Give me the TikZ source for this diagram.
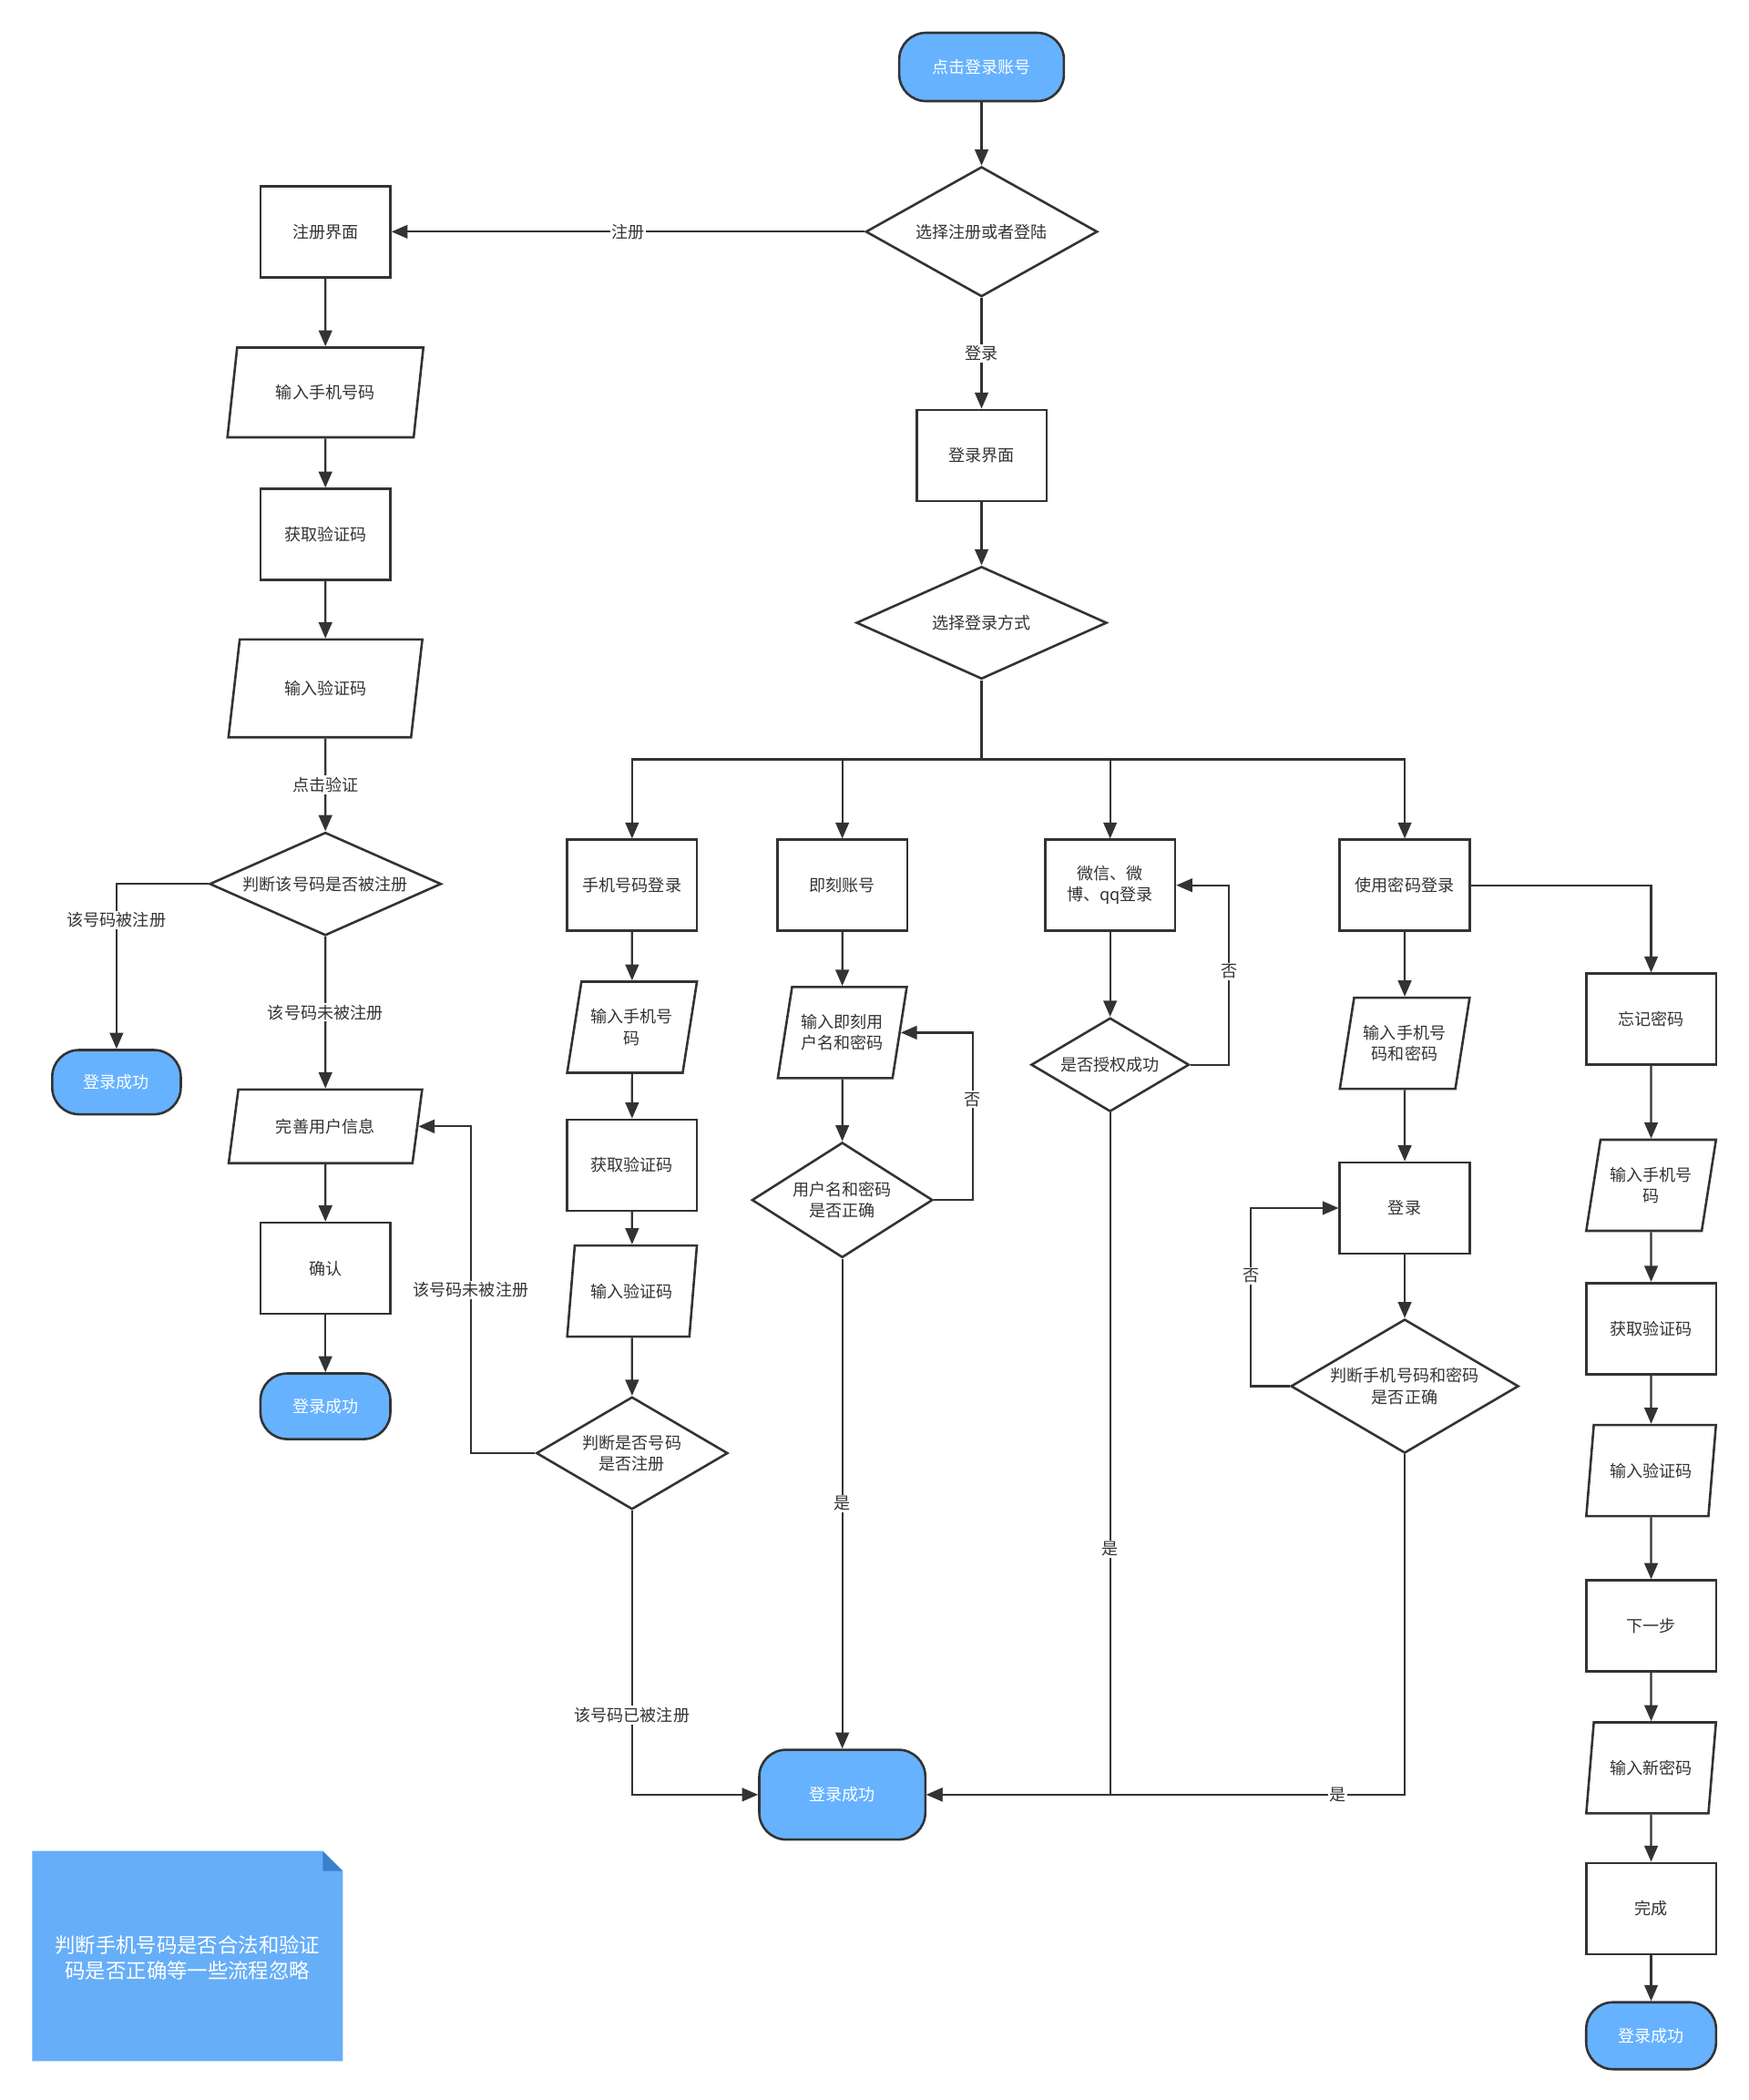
\documentclass[tikz,border=0pt]{standalone}
\usepackage{fontspec}
\setmainfont{Noto Sans CJK SC}
\usepackage{tikz}
\usetikzlibrary{shapes.geometric,arrows.meta}
\definecolor{lineC}{HTML}{333333}
\definecolor{termC}{HTML}{66B2FF}
\definecolor{noteC}{HTML}{66AEF8}
\definecolor{foldC}{HTML}{3A80CC}

\begin{document}
\begin{tikzpicture}[x=0.03cm, y=-0.03cm,
  base/.style={draw=lineC, line width=1.5pt, text=lineC, align=center, inner sep=1pt,
    font=\fontsize{10.5}{13.5}\selectfont},
  proc/.style={base, rectangle, minimum width=2.91cm, minimum height=2.04cm},
  io/.style={base, trapezium, trapezium left angle=73, trapezium right angle=107,
    trapezium stretches=true, minimum width=2.91cm, minimum height=2.04cm},
  decision/.style={base, diamond, inner sep=0pt},
  term/.style={base, rectangle, rounded corners=0.6cm, fill=termC, text=white},
  flow/.style={draw=lineC, line width=1.3pt, -{Triangle[length=0.36cm,width=0.3cm]}},
  wire/.style={draw=lineC, line width=1.3pt},
  lbl/.style={fill=white, text=lineC, inner sep=1pt, font=\fontsize{10.5}{13.5}\selectfont}]
\useasboundingbox (0,0) rectangle (1306,1568);

% top
\node[term, minimum width=3.69cm, minimum height=1.53cm] (start) at (733,50) {点击登录账号};
\node[decision, aspect=1.78, minimum width=5.19cm, minimum height=2.91cm] (choose) at (733,173) {选择注册或者登陆};
\node[proc] (loginui) at (733,340) {登录界面};
\node[decision, aspect=2.23, minimum width=5.61cm, minimum height=2.52cm] (mode) at (733,465) {选择登录方式};
\coordinate (fork) at (733,567);

% register
\node[proc] (reg) at (243,173) {注册界面};
\node[io, minimum width=4.41cm, minimum height=2.01cm] (rphone) at (243,293) {输入手机号码};
\node[proc] (rcode) at (243,399) {获取验证码};
\node[io, minimum width=4.35cm, minimum height=2.19cm] (rvcode) at (243,514) {输入验证码};
\node[decision, aspect=2.25, minimum width=5.19cm, minimum height=2.31cm] (rjudge) at (243,660) {判断该号码是否被注册};
\node[term, minimum width=2.88cm, minimum height=1.44cm] (rdone) at (87,808) {登录成功};
\node[io, minimum width=4.35cm, minimum height=1.65cm] (rinfo) at (243,841) {完善用户信息};
\node[proc] (rok) at (243,947) {确认};
\node[term, minimum width=2.91cm, minimum height=1.47cm] (rokdone) at (243,1050) {登录成功};

% phone login
\node[proc] (phone) at (472,661) {手机号码登录};
\node[io] (pin) at (472,767) {输入手机号\\码};
\node[proc] (pcode) at (472,870) {获取验证码};
\node[io] (pvcode) at (472,964) {输入验证码};
\node[decision, aspect=1.7, minimum width=4.29cm, minimum height=2.52cm] (pjudge) at (472,1085) {判断是否号码\\是否注册};
\node[term, minimum width=3.72cm, minimum height=2.01cm] (success) at (629,1340) {登录成功};

% jike account
\node[proc] (jike) at (629,661) {即刻账号};
\node[io] (jin) at (629,771) {输入即刻用\\户名和密码};
\node[decision, aspect=1.57, minimum width=4.05cm, minimum height=2.58cm] (jjudge) at (629,896) {用户名和密码\\是否正确};

% social login
\node[proc] (social) at (829,661) {微信、微\\博、qq登录};
\node[decision, aspect=1.69, minimum width=3.54cm, minimum height=2.10cm] (sjudge) at (829,795) {是否授权成功};

% password login
\node[proc] (pwd) at (1049,661) {使用密码登录};
\node[io] (pwin) at (1049,779) {输入手机号\\码和密码};
\node[proc] (pwlogin) at (1049,902) {登录};
\node[decision, aspect=1.7, minimum width=5.10cm, minimum height=3.00cm] (pwjudge) at (1049,1035) {判断手机号码和密码\\是否正确};

% forgot password
\node[proc] (forget) at (1233,761) {忘记密码};
\node[io] (fphone) at (1233,885) {输入手机号\\码};
\node[proc] (fcode) at (1233,992) {获取验证码};
\node[io] (fvcode) at (1233,1098) {输入验证码};
\node[proc] (fnext) at (1233,1214) {下一步};
\node[io] (fnew) at (1233,1320) {输入新密码};
\node[proc] (fdone) at (1233,1425) {完成};
\node[term, minimum width=2.91cm, minimum height=1.50cm] (fend) at (1233,1520) {登录成功};

% note
\fill[noteC] (24,1382) -- (241,1382) -- (256,1397) -- (256,1539) -- (24,1539) -- cycle;
\fill[foldC] (241,1382) -- (256,1397) -- (241,1397) -- cycle;
\node[text=white, align=center, font=\fontsize{13}{16.5}\selectfont] (note) at (140,1462)
  {判断手机号码是否合法和验证\\码是否正确等一些流程忽略};

% connectors
\draw[flow] (start) -- (choose);
\draw[flow] (choose) -- node[lbl] {注册} (reg);
\draw[flow] (choose) -- node[lbl] {登录} (loginui);
\draw[flow] (loginui) -- (mode);
\draw[wire] (mode) -- (fork);
\draw[flow] (fork) -| (phone);
\draw[flow] (fork) -| (jike);
\draw[flow] (fork) -| (social);
\draw[flow] (fork) -| (pwd);

\draw[flow] (reg) -- (rphone);
\draw[flow] (rphone) -- (rcode);
\draw[flow] (rcode) -- (rvcode);
\draw[flow] (rvcode) -- node[lbl] {点击验证} (rjudge);
\draw[flow] (rjudge) -| node[lbl, pos=0.61] {该号码被注册} (rdone);
\draw[flow] (rjudge) -- node[lbl] {该号码未被注册} (rinfo);
\draw[flow] (rinfo) -- (rok);
\draw[flow] (rok) -- (rokdone);

\draw[flow] (phone) -- (pin);
\draw[flow] (pin) -- (pcode);
\draw[flow] (pcode) -- (pvcode);
\draw[flow] (pvcode) -- (pjudge);
\draw[flow] (pjudge.west) -- ++(-48,0) |- node[lbl, pos=0.25] {该号码未被注册} (rinfo.east);
\draw[flow] (pjudge.south) |- node[lbl, pos=0.36] {该号码已被注册} (success.west);

\draw[flow] (jike) -- (jin);
\draw[flow] (jin) -- (jjudge);
\draw[flow] (jjudge.east) -- ++(29,0) |- node[lbl, pos=0.3] {否} (jin.east);
\draw[flow] (jjudge) -- node[lbl] {是} (success);

\draw[flow] (social) -- (sjudge);
\draw[flow] (sjudge.east) -- ++(29,0) |- node[lbl, pos=0.26] {否} (social.east);
\draw[flow] (sjudge.south) |- node[lbl, pos=0.32] {是} (success.east);

\draw[flow] (pwd) -- (pwin);
\draw[flow] (pwin) -- (pwlogin);
\draw[flow] (pwlogin) -- (pwjudge);
\draw[flow] (pwjudge.west) -- ++(-29,0) |- node[lbl, pos=0.31] {否} (pwlogin.west);
\draw[flow] (pwjudge.south) |- node[lbl, pos=0.57] {是} (success.east);

\draw[flow] (pwd) -| (forget);
\draw[flow] (forget) -- (fphone);
\draw[flow] (fphone) -- (fcode);
\draw[flow] (fcode) -- (fvcode);
\draw[flow] (fvcode) -- (fnext);
\draw[flow] (fnext) -- (fnew);
\draw[flow] (fnew) -- (fdone);
\draw[flow] (fdone) -- (fend);
\end{tikzpicture}
\end{document}
